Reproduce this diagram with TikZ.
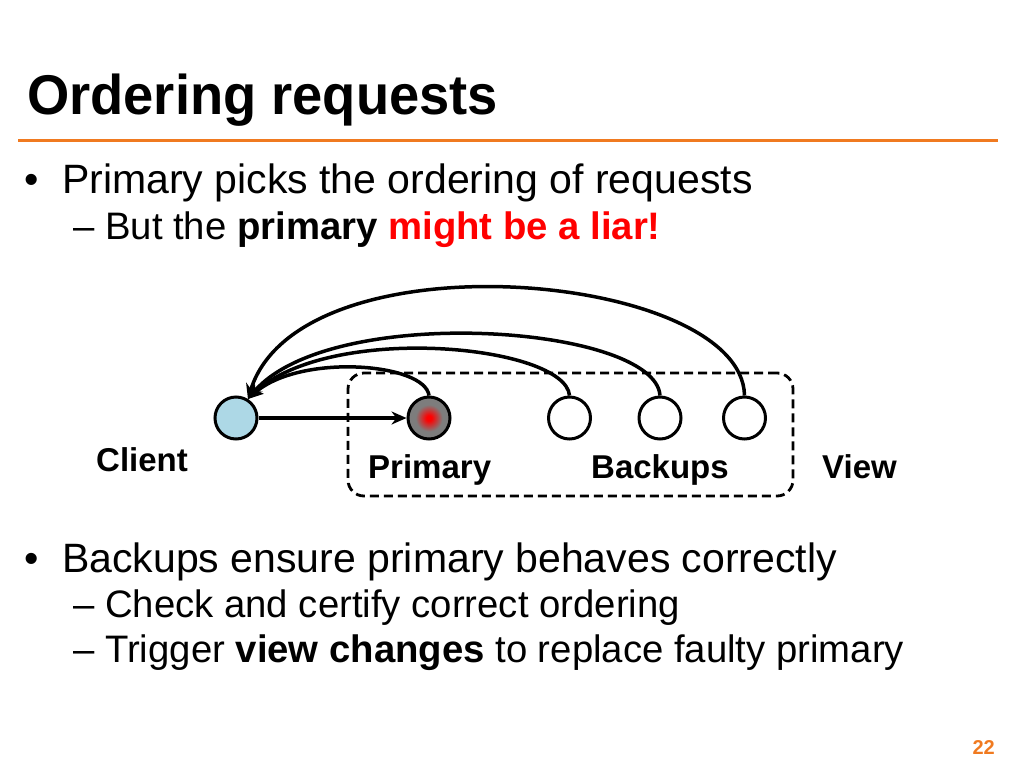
\documentclass[tikz,border=0pt]{standalone}
\usepackage{fontspec}
\setmainfont{Liberation Sans}
\newfontfamily\titlefont[FakeStretch=0.97]{Liberation Sans}
\usetikzlibrary{arrows.meta}
\definecolor{slideorange}{RGB}{240,122,32}
\definecolor{clientblue}{RGB}{173,216,230}
\definecolor{liarred}{RGB}{255,0,0}
\definecolor{primgray}{RGB}{125,125,125}
\pgfdeclareradialshading{redspot}{\pgfpoint{0bp}{0bp}}{color(0bp)=(liarred); color(3bp)=(liarred); color(16bp)=(primgray); color(50bp)=(primgray)}
\begin{document}
\begin{tikzpicture}[x=1pt,y=-1pt,
  replica/.style={circle, draw=black, line width=3pt, minimum size=42pt, inner sep=0pt},
  msg/.style={line width=3.5pt, -{Stealth[length=15pt,width=13pt]}},
  txt/.style={anchor=base west, inner sep=0pt},
  bodyfont/.style={font=\fontsize{41}{49}\selectfont},
  subfont/.style={font=\fontsize{38.3}{46}\selectfont},
  labelfont/.style={font=\fontsize{33}{40}\selectfont\bfseries},
  viewbox/.style={draw=black, line width=2.8pt, dash pattern=on 9pt off 5pt, rounded corners=16pt, minimum width=445pt, minimum height=123pt, inner sep=0pt}]
\useasboundingbox (0,0) rectangle (1024,768);

% title and rule
\node[txt, font=\titlefont\fontsize{56}{62}\selectfont\bfseries] (title) at (27,114) {Ordering requests};
\coordinate (ruleL) at (18,140);
\coordinate (ruleR) at (998,140);
\draw[slideorange, line width=3pt] (ruleL) -- (ruleR);

% first bullet
\node[txt, bodyfont] (b1dot) at (24,193) {•};
\node[txt, bodyfont] (b1) at (62,193) {Primary picks the ordering of requests};
\node[txt, subfont] (s1dash) at (73,239) {–};
\node[txt, subfont] (s1) at (105,239) {But the \textbf{primary} \textcolor{liarred}{\textbf{might be a liar!}}};

% diagram
\node[viewbox] (view) at (570.5,434.5) {};
\node[replica, fill=clientblue] (client) at (236,418) {};
\node[replica, shading=redspot] (primary) at (429,418) {};
\node[replica, fill=white] (bk1) at (569.5,418) {};
\node[replica, fill=white] (bk2) at (660,418) {};
\node[replica, fill=white] (bk3) at (744.5,418) {};

\draw[msg] (client) -- (primary);
\draw[msg] (bk3.north) .. controls (742,272) and (300,232) .. (client.58);
\draw[msg] (bk2.north) .. controls (655,325) and (330,302) .. (client.58);
\draw[msg] (bk1.north) .. controls (565,345) and (330,322) .. (client.58);
\draw[msg] (primary.north) .. controls (425,363) and (300,353) .. (client.58);

\node[txt, labelfont] (clientlbl) at (96,471) {Client};
\node[txt, labelfont] (primlbl) at (368,478) {Primary};
\node[txt, labelfont] (backlbl) at (591,478) {Backups};
\node[txt, labelfont] (viewlbl) at (822,478) {View};

% second bullet
\node[txt, bodyfont] (b2dot) at (24,572) {•};
\node[txt, bodyfont] (b2) at (62,572) {Backups ensure primary behaves correctly};
\node[txt, subfont] (s2dash) at (73,617) {–};
\node[txt, subfont] (s2) at (105,617) {Check and certify correct ordering};
\node[txt, subfont] (s3dash) at (73,662) {–};
\node[txt, subfont] (s3) at (105,662) {Trigger \textbf{view changes} to replace faulty primary};

% page number
\node[anchor=base east, inner sep=0pt, text=slideorange, font=\fontsize{20}{24}\selectfont\bfseries] (pagenum) at (995,754) {22};
\end{tikzpicture}
\end{document}
